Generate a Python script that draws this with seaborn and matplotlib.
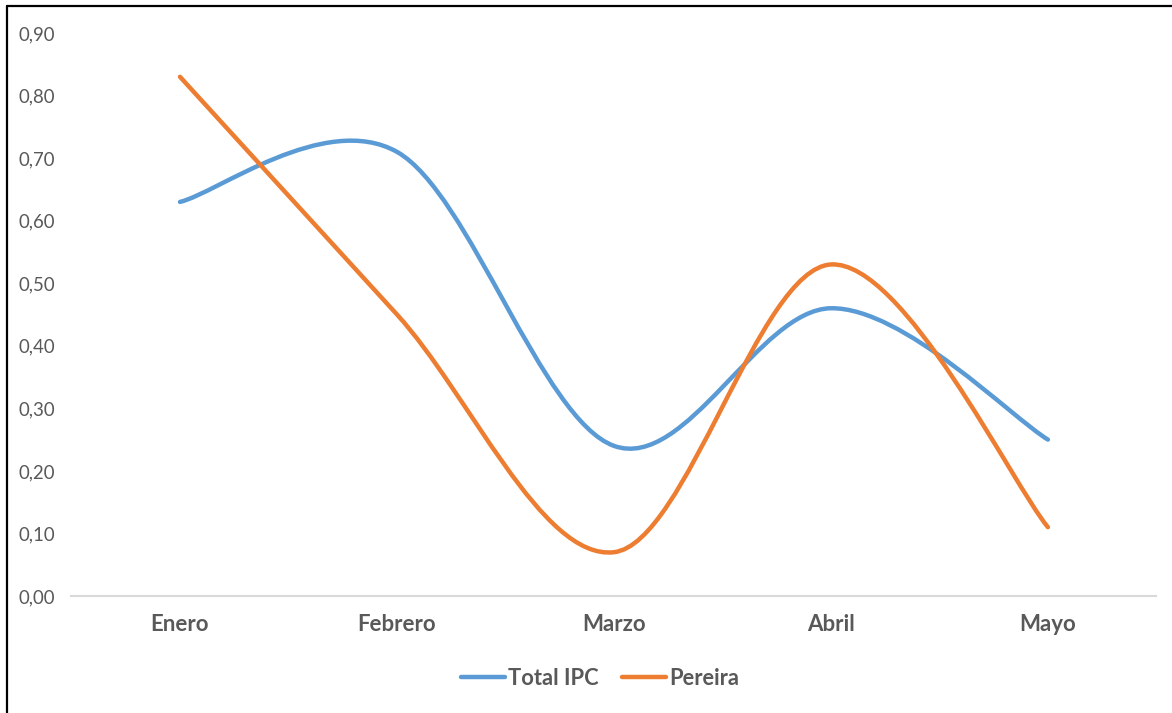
"""grafico de variacion mensual del IPC: total nacional vs Pereira."""

import matplotlib
matplotlib.use("Agg")

import matplotlib.pyplot as plt
import numpy as np
import pandas as pd
import seaborn as sns
from matplotlib.lines import Line2D
from matplotlib.patches import PathPatch
from matplotlib.path import Path

meses = ["Enero", "Febrero", "Marzo", "Abril", "Mayo"]
total_ipc = [0.63, 0.71, 0.24, 0.46, 0.25]
pereira = [0.83, 0.45, 0.07, 0.53, 0.11]
y_ticks = [0.0, 0.1, 0.2, 0.3, 0.4, 0.5, 0.6, 0.7, 0.8, 0.9]

colores = {"Total IPC": "#5B9BD5", "Pereira": "#ED7D31"}
gris = "#595959"


def curva_suave(xs, ys):
    # linea suavizada estilo excel (bezier tipo catmull-rom por los puntos)
    pts = np.column_stack([xs, ys]).astype(float)
    n = len(pts)
    verts = [pts[0]]
    codes = [Path.MOVETO]
    for i in range(n - 1):
        p_prev = pts[i - 1] if i > 0 else pts[i]
        p_next = pts[i + 2] if i + 2 < n else pts[i + 1]
        c1 = pts[i] + (pts[i + 1] - p_prev) / 6.0
        c2 = pts[i + 1] - (p_next - pts[i]) / 6.0
        verts += [c1, c2, pts[i + 1]]
        codes += [Path.CURVE4] * 3
    return Path(verts, codes)


df = pd.DataFrame({"mes": meses, "Total IPC": total_ipc, "Pereira": pereira})
df["pos"] = np.arange(len(meses))

sns.set_theme(style="white")
plt.rcParams["font.family"] = ["Lato", "DejaVu Sans"]

fig = plt.figure(figsize=(11.72, 7.13), dpi=100)
ax = fig.add_axes([0.061, 0.1641, 0.9257, 0.7896])

for serie in ["Total IPC", "Pereira"]:
    patch = PathPatch(
        curva_suave(df["pos"], df[serie]),
        facecolor="none",
        edgecolor=colores[serie],
        linewidth=3.2,
        capstyle="round",
        joinstyle="round",
        transform=ax.transData,
    )
    ax.add_patch(patch)

ax.set_xlim(-0.5, len(meses) - 0.5)
ax.set_ylim(0, 0.9)
ax.set_xticks(df["pos"])
ax.set_xticklabels(meses, fontsize=16, fontweight="bold", color=gris)
ax.set_yticks(y_ticks)
ax.set_yticklabels([f"{v:.2f}".replace(".", ",") for v in y_ticks], fontsize=13.4, color=gris)
ax.tick_params(axis="both", length=0)
ax.tick_params(axis="x", pad=13)
ax.tick_params(axis="y", pad=12)

sns.despine(ax=ax, left=True, top=True, right=True, bottom=False)
ax.spines["bottom"].set_color("#D9D9D9")
ax.spines["bottom"].set_linewidth(1.5)
ax.set_xlabel("")
ax.set_ylabel("")

handles = [Line2D([], [], color=colores[s], linewidth=3.2, solid_capstyle="round") for s in colores]
leg = fig.legend(
    handles,
    list(colores),
    loc="center",
    bbox_to_anchor=(0.512, 0.049),
    ncol=2,
    frameon=False,
    handlelength=2.0,
    handletextpad=0.12,
    columnspacing=1.1,
    prop={"size": 15.75, "weight": "bold"},
)
for txt in leg.get_texts():
    txt.set_color(gris)

# marco negro del recuadro original
x0 = 6.5 / 1172
y1 = 1 - 5.5 / 713
fig.add_artist(Line2D([x0, x0], [0, y1], color="black", linewidth=1.6, transform=fig.transFigure))
fig.add_artist(Line2D([x0, 1], [y1, y1], color="black", linewidth=1.6, transform=fig.transFigure))

fig.savefig("out.png", dpi=100)
plt.close(fig)
